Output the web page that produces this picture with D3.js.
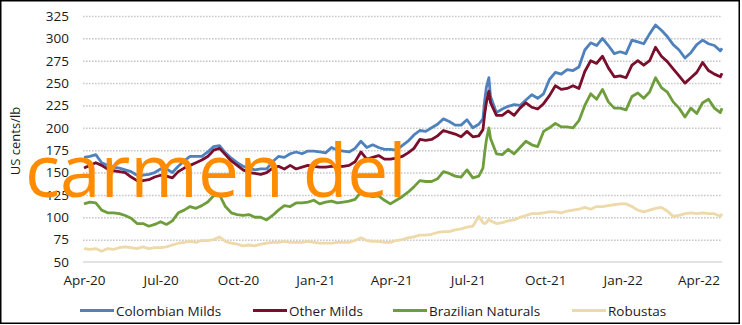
<!DOCTYPE html>
<html>
<head>
<meta charset="utf-8">
<script src="https://cdn.jsdelivr.net/npm/d3@7/dist/d3.min.js"></script>
<style>
  html, body { margin: 0; padding: 0; background: #fff; }
  svg { display: block; }
  text { font-family: "Open Sans", "DejaVu Sans", sans-serif; }
</style>
</head>
<body>
<svg id="chart" width="742" height="325"></svg>
<script>
const dates = [
  "2020-04-01","2020-04-08","2020-04-15","2020-04-22","2020-04-29","2020-05-06","2020-05-13","2020-05-20","2020-05-27","2020-06-03",
  "2020-06-10","2020-06-17","2020-06-24","2020-07-01","2020-07-08","2020-07-15","2020-07-22","2020-07-29","2020-08-05","2020-08-12",
  "2020-08-19","2020-08-26","2020-09-02","2020-09-09","2020-09-16","2020-09-23","2020-09-30","2020-10-07","2020-10-14","2020-10-21",
  "2020-10-28","2020-11-04","2020-11-11","2020-11-18","2020-11-25","2020-12-02","2020-12-09","2020-12-16","2020-12-23","2020-12-30",
  "2021-01-06","2021-01-13","2021-01-20","2021-01-27","2021-02-03","2021-02-10","2021-02-17","2021-02-24","2021-03-03","2021-03-10",
  "2021-03-17","2021-03-24","2021-03-31","2021-04-07","2021-04-14","2021-04-21","2021-04-28","2021-05-05","2021-05-12","2021-05-19",
  "2021-05-26","2021-06-02","2021-06-09","2021-06-16","2021-06-23","2021-06-30","2021-07-07","2021-07-14",
  "2021-07-19","2021-07-21","2021-07-23","2021-07-26","2021-07-28",
  "2021-08-04","2021-08-11","2021-08-18","2021-08-25","2021-09-01","2021-09-08","2021-09-15","2021-09-22","2021-09-29","2021-10-06",
  "2021-10-13","2021-10-20","2021-10-27","2021-11-03","2021-11-10","2021-11-17","2021-11-24","2021-12-01","2021-12-08","2021-12-15",
  "2021-12-22","2021-12-29","2022-01-05","2022-01-12","2022-01-19","2022-01-26","2022-02-02","2022-02-09","2022-02-16","2022-02-23",
  "2022-03-02","2022-03-09","2022-03-16","2022-03-23","2022-03-30","2022-04-06","2022-04-13","2022-04-20","2022-04-27","2022-04-29"
];

const colombianMilds = [
  167,168,170,161,158,156,155,153,151,147,
  147,148,150,154,154,150,157,163,168,168,
  168,173,179,180,172,166,161,157,155,153,
  154,154,162,168,167,171,173,171,174,174,
  173,172,178,175,174,173,177,185,178,181,
  178,176,176,175,180,185,192,197,196,200,
  204,210,207,203,203,209,200,204,
  210,230,245,256,235,
  217,221,224,226,225,231,237,233,238,254,
  262,260,265,264,268,287,295,292,300,292,
  283,285,283,298,296,294,305,315,309,302,
  293,287,278,284,293,298,294,292,286,
  289
];

const otherMilds = [
  155,158,161,158,154,152,151,150,145,141,
  141,142,145,147,146,144,151,155,158,161,
  164,168,175,177,170,163,158,153,150,149,
  148,150,155,157,154,158,154,156,158,157,
  156,156,157,157,157,158,162,173,165,167,
  169,165,165,166,168,172,177,187,186,187,
  191,197,195,193,190,196,190,191,
  198,215,228,241,228,
  214,214,219,214,222,228,223,221,227,236,
  247,243,244,247,244,263,275,272,280,267,
  257,258,256,270,275,270,275,290,280,274,
  266,258,250,256,262,273,264,260,257,
  261
];

const brazilianNaturals = [
  115,117,116,108,105,105,104,102,99,93,
  93,90,92,95,92,96,105,108,112,110,
  113,117,124,125,112,105,103,102,103,100,
  100,97,102,108,113,112,116,116,117,119,
  115,117,118,116,117,118,120,128,125,123,
  124,119,115,119,123,128,134,141,140,140,
  143,151,149,146,145,153,144,146,
  155,172,186,200,188,
  171,170,176,171,178,185,181,179,196,200,
  205,201,201,200,208,225,238,232,243,229,
  222,222,220,235,239,233,240,256,245,240,
  229,222,212,222,216,228,232,222,217,
  222
];

const robustas = [
  65,64,65,62,65,64,66,67,66,65,
  67,65,66,66,67,69,71,72,73,72,
  74,74,75,78,73,71,70,68,69,68,
  70,71,72,72,73,72,72,72,73,72,
  71,71,71,72,72,72,74,77,74,73,
  73,72,72,74,75,77,78,80,80,81,
  83,84,84,86,87,89,90,101,
  94,93,94,98,96,
  93,94,96,97,100,102,104,104,105,106,
  106,105,107,108,109,111,109,112,112,113,
  114,115,115,112,108,106,108,110,111,107,
  101,102,104,105,104,105,104,104,101,
  104
];

const seriesNames = ["Colombian Milds", "Other Milds", "Brazilian Naturals", "Robustas"];
const seriesColors = ["#4F81BD", "#7A0E2C", "#6E9E3C", "#EDD9AA"];
const yTicks = [50, 75, 100, 125, 150, 175, 200, 225, 250, 275, 300, 325];
const xTickDates = ["2020-04-01","2020-07-01","2020-10-01","2021-01-01","2021-04-01","2021-07-01","2021-10-01","2022-01-01","2022-04-01"];
const yTitle = "US cents/lb";
const watermark = "carmen del";

const parse = d3.timeParse("%Y-%m-%d");
const dateObjs = dates.map(parse);
const allSeries = [colombianMilds, otherMilds, brazilianNaturals, robustas];

const svg = d3.select("#chart");
const plot = { left: 84, right: 722, top: 16, bottom: 262 };

const x = d3.scaleTime()
  .domain([dateObjs[0], dateObjs[dateObjs.length - 1]])
  .range([plot.left, plot.right]);
const y = d3.scaleLinear().domain([50, 325]).range([plot.bottom, plot.top]);

// outer frame
svg.append("rect")
  .attr("x", 0.75).attr("y", 0.75)
  .attr("width", 738.5).attr("height", 322.5)
  .attr("fill", "none").attr("stroke", "#000").attr("stroke-width", 1.5);

// gridlines (dotted) except baseline
const gridAxis = d3.axisLeft(y).tickValues(yTicks.filter(v => v !== 50))
  .tickSize(-(plot.right - plot.left + 1)).tickFormat("");
const gg = svg.append("g").attr("transform", `translate(${plot.left - 1},0)`).call(gridAxis);
gg.select(".domain").remove();
gg.selectAll("line").attr("stroke", "#C8C8C8").attr("stroke-width", 1.5).attr("stroke-dasharray", "1.6,1.4");

// baseline
svg.append("line")
  .attr("x1", plot.left - 1).attr("x2", plot.right)
  .attr("y1", y(50)).attr("y2", y(50))
  .attr("stroke", "#D9D9D9").attr("stroke-width", 1.5);

// y axis labels
const yAxis = d3.axisLeft(y).tickValues(yTicks).tickSize(0).tickPadding(0);
const ya = svg.append("g").attr("transform", "translate(69,0)").call(yAxis);
ya.select(".domain").remove();
ya.selectAll("text").attr("font-size", 13.5).attr("fill", "#1a1a1a")
  .style("font-family", '"Open Sans", sans-serif');

// x axis labels
const xAxis = d3.axisBottom(x).tickValues(xTickDates.map(parse))
  .tickFormat(d3.timeFormat("%b-%y")).tickSize(0).tickPadding(0);
const xa = svg.append("g").attr("transform", "translate(0,275)").call(xAxis);
xa.select(".domain").remove();
xa.selectAll("text").attr("font-size", 13.5).attr("fill", "#1a1a1a")
  .style("font-family", '"Open Sans", sans-serif');

// y title
svg.append("text")
  .attr("transform", "translate(15,141) rotate(-90)")
  .attr("text-anchor", "middle").attr("dominant-baseline", "central")
  .attr("font-size", 13).attr("fill", "#1a1a1a")
  .text(yTitle);

// lines
const line = d3.line()
  .x((d, i) => x(dateObjs[i]))
  .y(d => y(d));
allSeries.forEach((s, i) => {
  svg.append("path")
    .datum(s)
    .attr("d", line)
    .attr("fill", "none")
    .attr("stroke", seriesColors[i])
    .attr("stroke-width", 2.8)
    .attr("stroke-linejoin", "round");
});

// legend
const legendX = [80, 253, 393, 572];
const lg = svg.append("g");
seriesNames.forEach((n, i) => {
  lg.append("line")
    .attr("x1", legendX[i]).attr("x2", legendX[i] + 34)
    .attr("y1", 310.5).attr("y2", 310.5)
    .attr("stroke", seriesColors[i]).attr("stroke-width", 2.8);
  lg.append("text")
    .attr("x", legendX[i] + 36).attr("y", 310.5)
    .attr("dominant-baseline", "central")
    .attr("font-size", 13.5).attr("fill", "#1a1a1a")
    .text(n);
});

// watermark
svg.append("text")
  .attr("x", 25).attr("y", 197)
  .attr("font-size", 73)
  .attr("fill", "#FF8C00")
  .style("font-family", '"Open Sans", sans-serif')
  .text(watermark);
</script>
</body>
</html>
